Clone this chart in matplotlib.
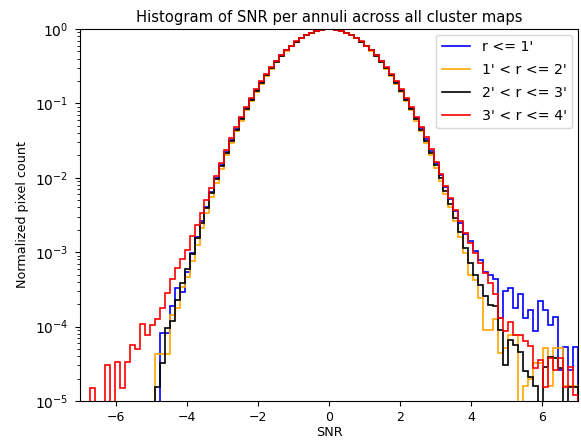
import numpy as np
import matplotlib
matplotlib.use("Agg")
import matplotlib.pyplot as plt

# Bin edges: 100 bins from -7 to 7
bin_edges = np.linspace(-7, 7, 101)

labels = ["r <= 1'", "1' < r <= 2'", "2' < r <= 3'", "3' < r <= 4'"]
colors = ["blue", "orange", "black", "red"]

# r <= 1'
blue_vals = [0]*16 + [8.2e-5, 8.2e-5, 1.87e-4, 3.3e-4, 2.9e-4, 5.5e-4, 9.8e-4, 1.6e-3, 2.6e-3,
             4.05e-3, 6.4e-3, 9.8e-3, 0.0150, 0.0222, 0.0322, 0.0456, 0.0630, 0.0857, 0.115,
             0.150, 0.194, 0.244, 0.303, 0.369, 0.442, 0.519, 0.599, 0.679, 0.757, 0.83, 0.895,
             0.945, 0.98, 0.998, 1.0, 0.98, 0.945, 0.895, 0.83, 0.757, 0.679, 0.599, 0.519,
             0.442, 0.369, 0.303, 0.244, 0.194, 0.150, 0.115, 0.0860, 0.0635, 0.0462, 0.0328,
             0.0228, 0.0158, 0.0109, 0.0075, 0.0052, 0.0036, 0.0025, 0.00175, 0.0014, 0.00103,
             7.9e-4, 5.4e-4, 5.0e-4, 4.3e-4, 1.3e-4, 3.0e-4, 3.3e-4, 1.77e-4, 2.7e-4, 1.3e-4,
             1.68e-4, 8.6e-5, 2.2e-4, 1.68e-4, 1.06e-4, 1.34e-4, 2.6e-5, 5.3e-5, 2.6e-5, 5.3e-5]

# 1' < r <= 2'
orange_vals = [0]*15 + [4.3e-5, 4.3e-5, 4.3e-5, 1.45e-4, 1.8e-4, 3.4e-4, 4.7e-4, 7.5e-4, 1.25e-3,
               2.1e-3, 3.4e-3, 5.5e-3, 8.6e-3, 0.0133, 0.0200, 0.0293, 0.0420, 0.0586, 0.0805,
               0.108, 0.143, 0.185, 0.235, 0.294, 0.36, 0.433, 0.511, 0.592, 0.674, 0.754, 0.828,
               0.894, 0.944, 0.98, 0.998, 1.0, 0.98, 0.944, 0.894, 0.828, 0.754, 0.674, 0.592,
               0.511, 0.433, 0.36, 0.294, 0.235, 0.185, 0.143, 0.108, 0.0805, 0.0586, 0.042,
               0.0293, 0.0200, 0.0136, 0.0091, 0.0061, 0.0040, 0.0026, 0.0016, 0.00098, 5.0e-4,
               4.2e-4, 2.4e-4, 9.1e-5, 9.1e-5, 1.25e-4, 4.4e-5, 5.1e-5, 7.75e-5, 7.75e-5, 0,
               1.6e-5, 2.0e-5, 3.2e-5, 3.2e-5, 5.2e-5, 1.6e-5, 5.2e-5, 5.2e-5, 1.6e-5, 1.6e-5,
               1.6e-5]

# 2' < r <= 3'
black_vals = [0]*15 + [1.55e-5, 3.2e-5, 9.5e-5, 1.2e-4, 2.3e-4, 3.8e-4, 6.0e-4, 9.5e-4, 1.55e-3,
              2.5e-3, 3.9e-3, 6.2e-3, 9.5e-3, 0.0145, 0.0215, 0.0312, 0.0443, 0.0613, 0.0835,
              0.112, 0.147, 0.19, 0.24, 0.299, 0.365, 0.438, 0.516, 0.597, 0.678, 0.757, 0.83,
              0.895, 0.945, 0.98, 0.998, 1.0, 0.98, 0.945, 0.895, 0.83, 0.757, 0.678, 0.597,
              0.516, 0.438, 0.365, 0.299, 0.24, 0.19, 0.147, 0.112, 0.0835, 0.0613, 0.0443,
              0.0312, 0.0215, 0.0148, 0.0100, 0.0067, 0.0044, 0.0029, 0.00185, 0.00115, 7.2e-4,
              5.0e-4, 3.66e-4, 2.55e-4, 1.97e-4, 1.87e-4, 9.1e-5, 3.05e-5, 6.6e-5, 5.7e-5,
              4.6e-5, 2.5e-5, 2.1e-5, 1.6e-5, 0, 2.9e-5, 3.95e-5, 3.76e-5, 2.75e-5, 0, 1.56e-5,
              1.56e-5]

# 3' < r <= 4'
red_vals = [0, 0, 1.5e-5, 0, 0, 3.0e-5, 0, 3.3e-5, 1.5e-5, 3.3e-5, 5.7e-5, 5.0e-5, 1.08e-4,
            7.8e-5, 1.05e-4, 1.26e-4, 1.77e-4, 2.8e-4, 4.4e-4, 6.2e-4, 8.0e-4, 1.08e-3, 1.65e-3,
            2.3e-3, 3.4e-3, 5.0e-3, 7.4e-3, 0.0106, 0.0158, 0.0238, 0.0346, 0.0485, 0.0662,
            0.0893, 0.119, 0.154, 0.198, 0.247, 0.306, 0.372, 0.444, 0.521, 0.6, 0.68, 0.757,
            0.83, 0.895, 0.945, 0.98, 0.998, 1.0, 0.98, 0.945, 0.895, 0.83, 0.757, 0.68, 0.6,
            0.521, 0.444, 0.372, 0.306, 0.247, 0.198, 0.154, 0.119, 0.0893, 0.0662, 0.0487,
            0.035, 0.0245, 0.0165, 0.0113, 0.0078, 0.0054, 0.0037, 0.0026, 0.0018, 0.00133,
            0.00098, 7.2e-4, 5.3e-4, 3.9e-4, 2.7e-4, 1.3e-4, 8.6e-5, 1.17e-4, 7.75e-5, 7.75e-5,
            6.5e-5, 5.5e-5, 2.75e-5, 3.6e-5, 1.56e-5, 3.76e-5, 2.6e-5, 3.76e-5, 1.56e-5,
            2.9e-5, 1.2e-5]

series = [blue_vals, orange_vals, black_vals, red_vals]

fig = plt.figure(figsize=(5.81, 4.42), dpi=100)
ax = fig.add_axes([0.1377, 0.0928, 0.857, 0.8416])

for vals, col, lab in zip(series, colors, labels):
    ax.stairs(np.asarray(vals, dtype=float), bin_edges, color=col, label=lab,
              baseline=0, linewidth=1.2)

ax.set_yscale("log")
ax.set_xlim(-7, 7)
ax.set_ylim(1e-5, 1.0)
ax.set_title("Histogram of SNR per annuli across all cluster maps", fontsize=10.6, pad=5)
ax.set_xlabel("SNR", fontsize=9.2, labelpad=2)
ax.set_ylabel("Normalized pixel count", fontsize=9.2, labelpad=4)
ax.tick_params(axis="x", labelsize=9)
ax.tick_params(axis="y", labelsize=10, pad=5)
ax.legend(loc="upper right", fontsize=10.2, labelspacing=0.62, borderaxespad=0.4)

fig.savefig("out.png", dpi=100)
